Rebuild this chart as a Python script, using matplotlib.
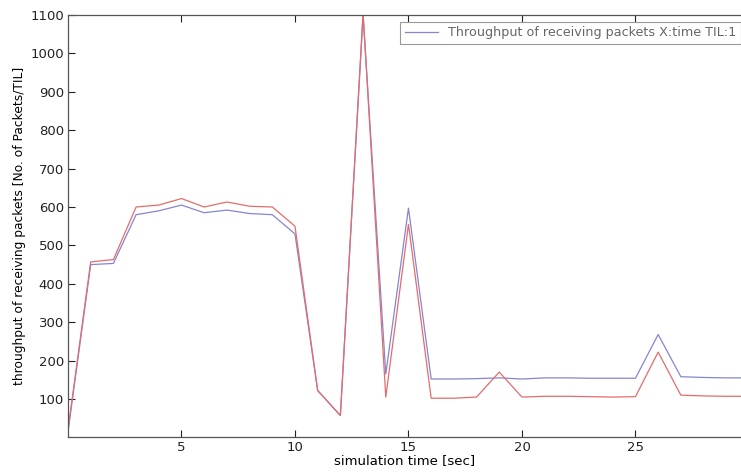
import matplotlib
matplotlib.use("Agg")
import matplotlib.pyplot as plt

# simulation time in seconds, one sample per second
t = list(range(0, 31))

# throughput, receiving packets (blue) and second run (red)
recv_blue = [15, 450, 453, 580, 590, 605, 585, 592, 583, 580, 530,
             122, 57, 1100, 165, 597, 152, 152, 153, 155, 152,
             155, 155, 154, 154, 154, 268, 158, 156, 155, 155]
recv_red = [20, 457, 463, 600, 605, 622, 600, 613, 602, 600, 550,
            122, 57, 1105, 105, 555, 102, 102, 105, 170, 105,
            107, 107, 106, 105, 106, 222, 110, 108, 107, 107]

xticks = [5, 10, 15, 20, 25]
yticks = [100, 200, 300, 400, 500, 600, 700, 800, 900, 1000, 1100]

plt.rcParams['font.family'] = 'DejaVu Sans'
fig = plt.figure(figsize=(7.41, 4.76), dpi=100)
ax = fig.add_axes([68/741, 39/476, 1 - 68/741, 422/476])

ax.plot(t, recv_blue, color='#8585d2', lw=0.9, label='Throughput of receiving packets X:time TIL:1')
ax.plot(t, recv_red, color='#e46c6c', lw=0.9)

ax.set_xlim(0, 29.65)
ax.set_ylim(1, 1100)
ax.set_xticks(xticks)
ax.set_yticks(yticks)
ax.tick_params(direction='in', length=5, width=0.8, labelsize=9.5, colors='#222222',
               top=True, pad=3)
ax.tick_params(axis='y', pad=3)
for s in ['left', 'bottom', 'top']:
    ax.spines[s].set_color('#555555')
    ax.spines[s].set_linewidth(0.9)
ax.spines['right'].set_visible(False)

ax.set_xlabel('simulation time [sec]', fontsize=9.5, labelpad=0)
ax.set_ylabel('throughput of receiving packets [No. of Packets/TIL]', fontsize=8.8, labelpad=3)

leg = ax.legend(loc='upper right', bbox_to_anchor=(1.0, 0.984), fontsize=9.2,
                handlelength=2.6, borderaxespad=0, fancybox=False, framealpha=1,
                borderpad=0.35, handletextpad=0.8)
leg.get_frame().set_edgecolor('#999999')
leg.get_frame().set_linewidth(0.8)
for txt in leg.get_texts():
    txt.set_color('#666666')

fig.savefig('out.png', dpi=100)
